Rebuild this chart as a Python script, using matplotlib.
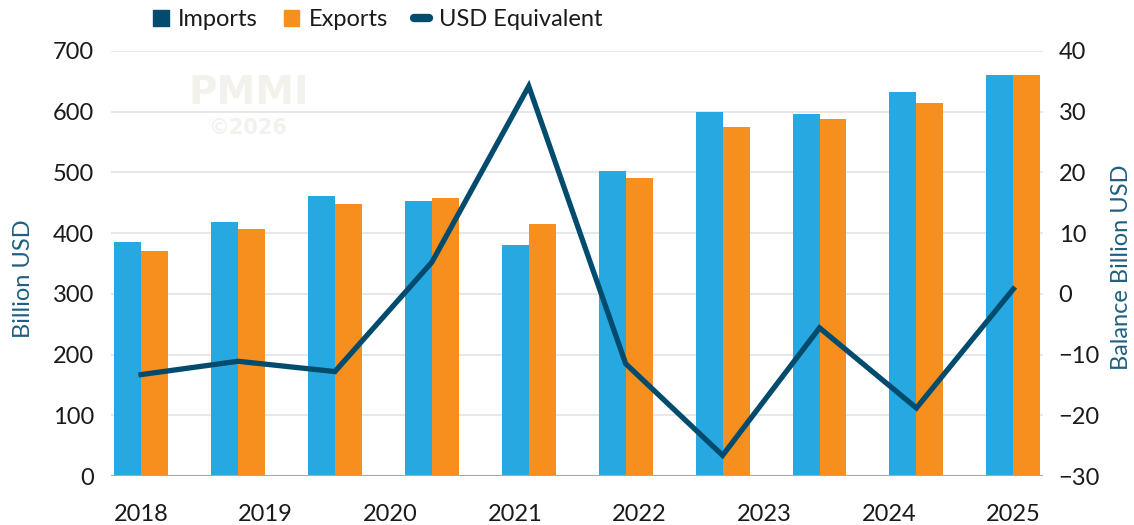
import matplotlib.pyplot as plt
import numpy as np
from matplotlib.patches import Patch
from matplotlib.lines import Line2D

plt.rcParams['font.family'] = ['Lato', 'DejaVu Sans']

years = ['2018', '2019', '2020', '2021', '2022', '2023', '2024', '2025']
imports = [385, 418, 461, 453, 380, 502, 600, 596, 632, 660]
exports = [370, 407, 448, 458, 415, 491, 575, 588, 614, 660]
balance = [-13.3, -11.1, -12.8, 5.2, 34.2, -11.5, -26.6, -5.6, -18.8, 0.8]

c_imp = '#27A8E0'
c_exp = '#F78F1E'
c_line = '#004B6E'
c_lab = '#1F5F82'
c_txt = '#1A1A1A'

fig = plt.figure(figsize=(11.34, 5.25), dpi=100)
ax = fig.add_axes([0.0979, 0.0933, 0.8222, 0.8096])
ax2 = ax.twinx()

x = np.arange(len(imports))
w = 0.278
ax.bar(x - w / 2, imports, w, color=c_imp, zorder=2)
ax.bar(x + w / 2, exports, w, color=c_exp, zorder=2)
ax2.plot(x, balance, color=c_line, lw=3.8, solid_joinstyle='miter', zorder=3)

ax.set_xlim(-0.31, len(imports) - 1 + 0.31)
ax.set_ylim(0, 700)
ax.set_yticks(range(0, 701, 100))
ax2.set_ylim(-30, 40)
ax2.set_yticks(range(-30, 41, 10))

ax.set_xticks(np.linspace(0, len(imports) - 1, len(years)))
ax.set_xticklabels(years)

ax.grid(axis='y', color='#E3E3E3', lw=1.2, zorder=0)
ax.set_axisbelow(True)
for a in (ax, ax2):
    for s in ['top', 'left', 'right', 'bottom']:
        a.spines[s].set_visible(False)
ax.axhline(0, color='#A8A8A8', lw=1.5, zorder=4)

ax.tick_params(axis='both', length=0, labelsize=17, labelcolor=c_txt)
ax.tick_params(axis='x', pad=20)
ax.tick_params(axis='y', pad=12)
ax2.tick_params(axis='y', length=0, labelsize=17, labelcolor=c_txt, pad=11)

fig.text(0.021, 0.47, 'Billion USD', rotation=90, color=c_lab, fontsize=17,
         ha='center', va='center')
fig.text(0.989, 0.49, 'Balance Billion USD', rotation=90, color=c_lab,
         fontsize=17, ha='center', va='center')

# watermark
fig.text(0.219, 0.822, 'PMMI', color='#F2F1EC', fontsize=28, fontweight='bold',
         family='DejaVu Sans', ha='center', va='center', zorder=0)
fig.text(0.218, 0.757, '©2026', color='#F2F1EC', fontsize=15, fontweight='bold',
         family='DejaVu Sans', ha='center', va='center', zorder=0)

handles = [Patch(color=c_line, label='Imports'),
           Patch(color=c_exp, label='Exports'),
           Line2D([0], [0], color=c_line, lw=6, solid_capstyle='round',
                  label='USD Equivalent')]
fig.legend(handles=handles, loc='center', bbox_to_anchor=(0.333, 0.962),
           ncol=3, frameon=False, fontsize=17, handlelength=0.65,
           handleheight=0.65, handletextpad=0.4, columnspacing=1.1,
           labelcolor=c_txt)

fig.savefig('out.png', dpi=100)
